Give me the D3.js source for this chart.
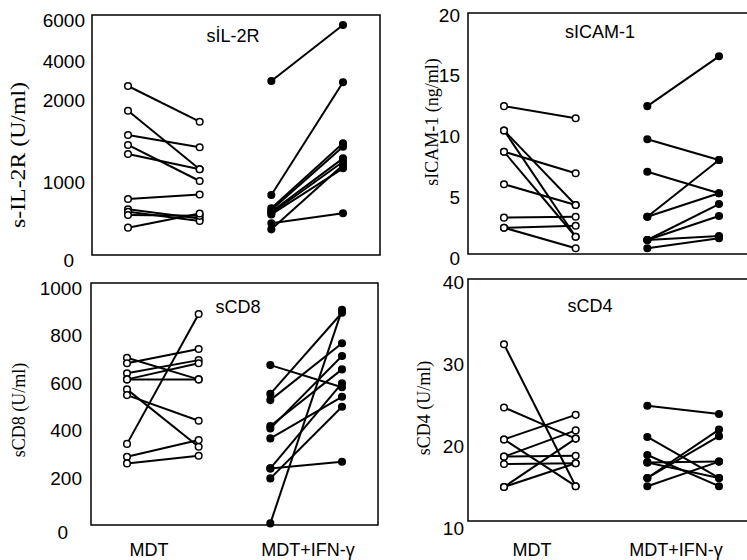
<!DOCTYPE html>
<html>
<head>
<meta charset="utf-8">
<script src="https://cdnjs.cloudflare.com/ajax/libs/d3/7.8.5/d3.min.js"></script>
<style>
  body { margin: 0; background: #fff; }
</style>
</head>
<body>
<div id="chart"></div>
<script>
// groups and the four measurement columns (before / after for each group)
const groups = ["MDT", "MDT+IFN-γ"];
const timePoints = ["MDT pre", "MDT post", "IFN pre", "IFN post"];

// sIL-2R (U/ml) - broken axis
const il2rTicks = [0, 1000, 2000, 4000, 6000];
const il2rMdtPre  = [2727, 1870, 1576, 1455, 1345, 772, 630, 597, 552, 377];
const il2rMdtPost = [1737, 1160, 1427, 1018, 1160, 835, 504, 469, 540, 573];
const il2rIfnPre  = [2987, 828, 437, 644, 621, 597, 575, 560, 354];
const il2rIfnPost = [5780, 2920, 575, 1475, 1434, 1293, 1252, 1172, 1212];

// sICAM-1 (ng/ml)
const icamTicks = [0, 5, 10, 15, 20];
const icamMdtPre  = [12.5, 10.5, 10.5, 8.75, 8.75, 6.07, 3.32, 2.49, 2.49];
const icamMdtPost = [11.5, 4.36, 1.75, 6.97, 1.75, 4.36, 3.40, 2.66, 0.80];
const icamIfnPre  = [12.5, 9.77, 7.1, 3.4, 3.4, 1.48, 1.48, 1.48, 0.8];
const icamIfnPost = [16.6, 8.07, 5.33, 8.07, 5.33, 4.44, 3.46, 1.81, 1.62];

// sCD8 (U/ml)
const cd8Ticks = [0, 200, 400, 600, 800, 1000];
const cd8MdtPre  = [345, 707, 684, 642, 616, 616, 574, 550, 291, 263];
const cd8MdtPost = [891, 616, 744, 697, 684, 616, 333, 442, 361, 295];
const cd8IfnPre  = [676, 555, 529, 420, 410, 368, 242, 242, 200, 11];
const cd8IfnPost = [583, 896, 768, 658, 714, 543, 600, 270, 501, 908];

// sCD4 (U/ml)
const cd4Ticks = [10, 20, 30, 40];
const cd4MdtPre  = [32.4, 24.7, 20.8, 20.8, 18.7, 18.7, 17.8, 15.0, 15.0];
const cd4MdtPost = [15.1, 20.9, 23.8, 15.1, 21.9, 18.8, 17.9, 20.9, 17.9];
const cd4IfnPre  = [24.9, 21.1, 18.9, 18.0, 18.0, 16.1, 16.1, 15.1];
const cd4IfnPost = [23.9, 16.1, 15.1, 18.1, 16.1, 22.0, 21.2, 18.1];

// layout of the four panels
const panels = [
  {title: "sİL-2R", yLabel: "s-IL-2R (U/ml)", ticks: il2rTicks,
   mdt: [il2rMdtPre, il2rMdtPost], ifn: [il2rIfnPre, il2rIfnPost],
   box: {x: 92, y: 15, w: 288, h: 240}, yRange: [255, 182.5, 100, 61.5, 20.5],
   titleX: 233, titleY: 42, labX: 18, labY: 155, labLen: 146, labSize: 20, pad: 7, zero: [-11, 5], cats: null},
  {title: "sICAM-1", yLabel: "sICAM-1 (ng/ml)", ticks: icamTicks,
   mdt: [icamMdtPre, icamMdtPost], ifn: [icamIfnPre, icamIfnPost],
   box: {x: 468, y: 13, w: 300, h: 241}, yRange: [258, 15],
   titleX: 600, titleY: 38, labX: 432, labY: 122, labLen: null, labSize: 18, pad: 8, zero: [0, 0], cats: null},
  {title: "sCD8", yLabel: "sCD8 (U/ml)", ticks: cd8Ticks,
   mdt: [cd8MdtPre, cd8MdtPost], ifn: [cd8IfnPre, cd8IfnPost],
   box: {x: 91, y: 283, w: 287, h: 242}, yRange: [526, 288],
   titleX: 238, titleY: 313, labX: 19, labY: 410, labLen: null, labSize: 18, pad: 9, zero: [-14, 6], cats: [58, 217]},
  {title: "sCD4", yLabel: "sCD4 (U/ml)", ticks: cd4Ticks,
   mdt: [cd4MdtPre, cd4MdtPost], ifn: [cd4IfnPre, cd4IfnPost],
   box: {x: 468, y: 279, w: 300, h: 242}, yRange: [528, 282],
   titleX: 590, titleY: 312, labX: 424, labY: 408, labLen: null, labSize: 18, pad: 4, zero: [0, 0], cats: [64, 208]}
];

const svg = d3.select("#chart")
    .append("svg")
    .attr("width", 747)
    .attr("height", 560);

const sans = "'Liberation Sans', Arial, Helvetica, sans-serif";
const serif = "'Liberation Serif', 'Times New Roman', Times, serif";

panels.forEach(function (p) {
    const g = svg.append("g");

    // y scale (polylinear for the broken sIL-2R axis)
    let y;
    if (p.yRange.length > 2) {
        y = d3.scaleLinear().domain(p.ticks).range(p.yRange);
    } else {
        y = d3.scaleLinear().domain(d3.extent(p.ticks)).range(p.yRange);
    }

    const x = d3.scalePoint()
        .domain(timePoints)
        .range([p.box.x + 36, p.box.x + 251]);

    // frame
    g.append("rect")
        .attr("x", p.box.x)
        .attr("y", p.box.y)
        .attr("width", p.box.w)
        .attr("height", p.box.h)
        .attr("fill", "none")
        .attr("stroke", "#000")
        .attr("stroke-width", 1.5);

    // y axis labels only
    const yAxis = g.append("g")
        .attr("transform", "translate(" + p.box.x + ",0)")
        .call(d3.axisLeft(y).tickValues(p.ticks).tickSize(0).tickPadding(p.pad).tickFormat(d3.format("d")));
    yAxis.select(".domain").remove();
    yAxis.selectAll("text")
        .style("font-family", sans)
        .style("font-size", "19px")
        .attr("fill", "#000");
    yAxis.selectAll(".tick")
        .filter(function (d) { return d === 0; })
        .select("text")
        .attr("dx", p.zero[0])
        .attr("dy", (0.32 * 19 + p.zero[1]) + "px");

    // y axis title
    const lab = g.append("text")
        .attr("transform", "translate(" + p.labX + "," + p.labY + ") rotate(-90)")
        .attr("text-anchor", "middle")
        .attr("dy", "0.35em")
        .style("font-family", serif)
        .style("font-size", p.labSize + "px")
        .text(p.yLabel);
    if (p.labLen) {
        lab.attr("textLength", p.labLen).attr("lengthAdjust", "spacingAndGlyphs");
    }

    // panel title
    g.append("text")
        .attr("x", p.titleX)
        .attr("y", p.titleY)
        .attr("text-anchor", "middle")
        .style("font-family", sans)
        .style("font-size", "18px")
        .text(p.title);

    // paired lines then circles
    const series = [
        {pre: p.mdt[0], post: p.mdt[1], k0: timePoints[0], k1: timePoints[1], fill: "#fff"},
        {pre: p.ifn[0], post: p.ifn[1], k0: timePoints[2], k1: timePoints[3], fill: "#000"}
    ];

    series.forEach(function (s) {
        const pairs = s.pre.map(function (v, i) { return {a: v, b: s.post[i]}; });

        g.selectAll(null)
            .data(pairs)
            .enter().append("line")
            .attr("x1", x(s.k0))
            .attr("x2", x(s.k1))
            .attr("y1", function (d) { return y(d.a); })
            .attr("y2", function (d) { return y(d.b); })
            .attr("stroke", "#000")
            .attr("stroke-width", 2);

        const pts = [];
        pairs.forEach(function (d) {
            pts.push({k: s.k0, v: d.a});
            pts.push({k: s.k1, v: d.b});
        });

        g.selectAll(null)
            .data(pts)
            .enter().append("circle")
            .attr("cx", function (d) { return x(d.k); })
            .attr("cy", function (d) { return y(d.v); })
            .attr("r", 3.3)
            .attr("fill", s.fill)
            .attr("stroke", "#000")
            .attr("stroke-width", 1.5);
    });

    // group labels under the bottom panels
    if (p.cats) {
        const c = d3.scalePoint()
            .domain(groups)
            .range([p.box.x + p.cats[0], p.box.x + p.cats[1]]);
        g.selectAll(null)
            .data(groups)
            .enter().append("text")
            .attr("x", function (d) { return c(d); })
            .attr("y", 556)
            .attr("text-anchor", "middle")
            .style("font-family", sans)
            .style("font-size", "18px")
            .text(function (d) { return d; });
    }
});
</script>
</body>
</html>
